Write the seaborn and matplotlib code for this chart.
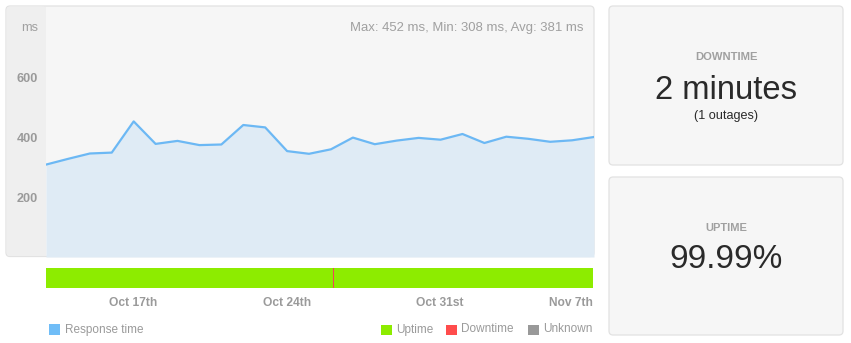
import numpy as np
import pandas as pd
import matplotlib
matplotlib.use("Agg")
import matplotlib.pyplot as plt
import seaborn as sns
from matplotlib.patches import FancyBboxPatch, Rectangle
from matplotlib.transforms import IdentityTransform

# ---------------- data ----------------
dates = pd.date_range("2019-10-13", "2019-11-07", freq="D")
response_ms = [308, 327, 345, 348, 452, 377, 387, 373, 375, 440, 432, 353, 344,
               359, 398, 376, 388, 397, 391, 410, 380, 401, 394, 384, 389, 400]
y_ticks = [200, 400, 600]
date_tick_days = ["2019-10-17", "2019-10-24", "2019-10-31", "2019-11-07"]
date_tick_labels = ["Oct 17th", "Oct 24th", "Oct 31st", "Nov 7th"]
outage_time = "2019-10-26 02:30"
stats_text = "Max: 452 ms, Min: 308 ms, Avg: 381 ms"
legend_left = ["Response time"]
legend_right = ["Uptime", "Downtime", "Unknown"]
downtime_value = "2 minutes"
outages_text = "(1 outages)"
uptime_value = "99.99%"

# ---------------- style ----------------
sns.set_theme(style="white")
plt.rcParams["font.family"] = ["Liberation Sans", "DejaVu Sans"]

W, H = 851, 343
DPI = 100
fig = plt.figure(figsize=(W / DPI, H / DPI), dpi=DPI)
fig.patch.set_facecolor("white")
T = IdentityTransform()

def pt(px):
    return px * 72.0 / DPI

def rect(x0, y0, x1, y1):
    return [x0 / W, 1 - y1 / H, (x1 - x0) / W, (y1 - y0) / H]

def rbox(x0, y0, x1, y1, fc, ec="none", r=4, lw=1.0, z=-5):
    p = FancyBboxPatch((x0, H - y1), x1 - x0, y1 - y0,
                       boxstyle=f"round,pad=0,rounding_size={r}",
                       fc=fc, ec=ec, lw=lw, transform=T, zorder=z)
    fig.add_artist(p)

def ftext(x, y, s, **kw):
    fig.text(x, H - y, s, transform=T, **kw)

GREY = "#9a9a9a"
LINE = "#6cb8f4"
FILL = "#dfebf5"
GREEN = "#8dec00"
RED = "#ff4c4c"
UNK = "#999999"

# main panel
rbox(6, 6, 594, 256.5, "#f6f6f6", "#e2e2e2", r=4, lw=0.9, z=-6)
rbox(6.5, 6.5, 46, 256, "#efefef", "none", r=3.5, z=-5)
fig.add_artist(Rectangle((40, H - 256), 6, 249.5, fc="#efefef", ec="none",
                         transform=T, zorder=-5))

# ---------------- response time chart ----------------
x = (dates - dates[0]).days.astype(float)
df = pd.DataFrame({"day": x, "ms": response_ms})

ax = fig.add_axes(rect(46, 6, 594, 257))
ax.set_facecolor("none")
ax.fill_between(df["day"], 0, df["ms"], color=FILL, lw=0, zorder=1)
sns.lineplot(data=df, x="day", y="ms", ax=ax, color=LINE, lw=1.6, zorder=3)
ax.set_xlim(x[0], x[-1])
ax.set_ylim(0, 251 / 0.3)
ax.set_yticks(y_ticks)
ax.set_yticklabels([str(v) for v in y_ticks], fontsize=pt(12.6),
                   fontweight="bold", color=GREY)
ax.tick_params(axis="y", length=0, pad=pt(8))
ax.set_xticks([])
ax.set_xlabel("")
ax.set_ylabel("")
for s in ax.spines.values():
    s.set_visible(False)

ftext(38, 31, "ms", ha="right", va="baseline", fontsize=pt(12.8), color="#a0a0a0")
ftext(583, 30.7, stats_text, ha="right", va="baseline", fontsize=pt(13.1),
      color="#a0a0a0")

# ---------------- uptime bar ----------------
bx = fig.add_axes(rect(46, 268, 593, 288))
bx.set_facecolor("none")
bx.barh([0], [x[-1] - x[0]], left=[x[0]], height=1.0, color=GREEN, lw=0)
outage_x = (pd.Timestamp(outage_time) - dates[0]) / pd.Timedelta(days=1)
bx.axvline(outage_x, color="#f2405a", lw=0.5, antialiased=False)
bx.set_xlim(x[0], x[-1])
bx.set_ylim(-0.5, 0.5)
bx.set_yticks([])
tick_pos = [(pd.Timestamp(d) - dates[0]) / pd.Timedelta(days=1) for d in date_tick_days]
bx.set_xticks(tick_pos)
labels = bx.set_xticklabels(date_tick_labels, fontsize=pt(12), fontweight="bold",
                            color=GREY)
labels[-1].set_horizontalalignment("right")
labels[-1].set_x(tick_pos[-1])
bx.tick_params(axis="x", length=0, pad=pt(9))
for s in bx.spines.values():
    s.set_visible(False)

# ---------------- legend ----------------
def legend_item(x0, label, color, size=11.5):
    fig.add_artist(Rectangle((x0, H - 335), size, size, fc=color, ec="none",
                             transform=T))
    ftext(x0 + size + 5, 332.5, label, ha="left", va="baseline",
          fontsize=pt(11.7), color="#9a9a9a")

legend_item(48.5, legend_left[0], "#70bdf7")
legend_item(381, legend_right[0], GREEN, size=10.5)
legend_item(446, legend_right[1], RED, size=10.5)
legend_item(528, legend_right[2], UNK, size=10.5)

# ---------------- right stat boxes ----------------
rbox(609, 6, 843, 165, "#f6f6f6", "#e2e2e2", r=4, lw=0.9)
rbox(609, 177, 843, 335, "#f6f6f6", "#e2e2e2", r=4, lw=0.9)
cx = 726
ftext(cx, 60, "DOWNTIME", ha="center", va="baseline", fontsize=pt(11.2),
      fontweight="bold", color="#a0a0a0")
ftext(cx, 99, downtime_value, ha="center", va="baseline", fontsize=pt(32.8),
      color="#2a2a2a")
ftext(cx, 118.5, outages_text, ha="center", va="baseline", fontsize=pt(12.6),
      color="#2a2a2a")
ftext(cx, 230.7, "UPTIME", ha="center", va="baseline", fontsize=pt(11.1),
      fontweight="bold", color="#a0a0a0")
ftext(cx, 268.3, uptime_value, ha="center", va="baseline", fontsize=pt(33.4),
      color="#2a2a2a")

fig.savefig("out.png", dpi=DPI, facecolor="white")
